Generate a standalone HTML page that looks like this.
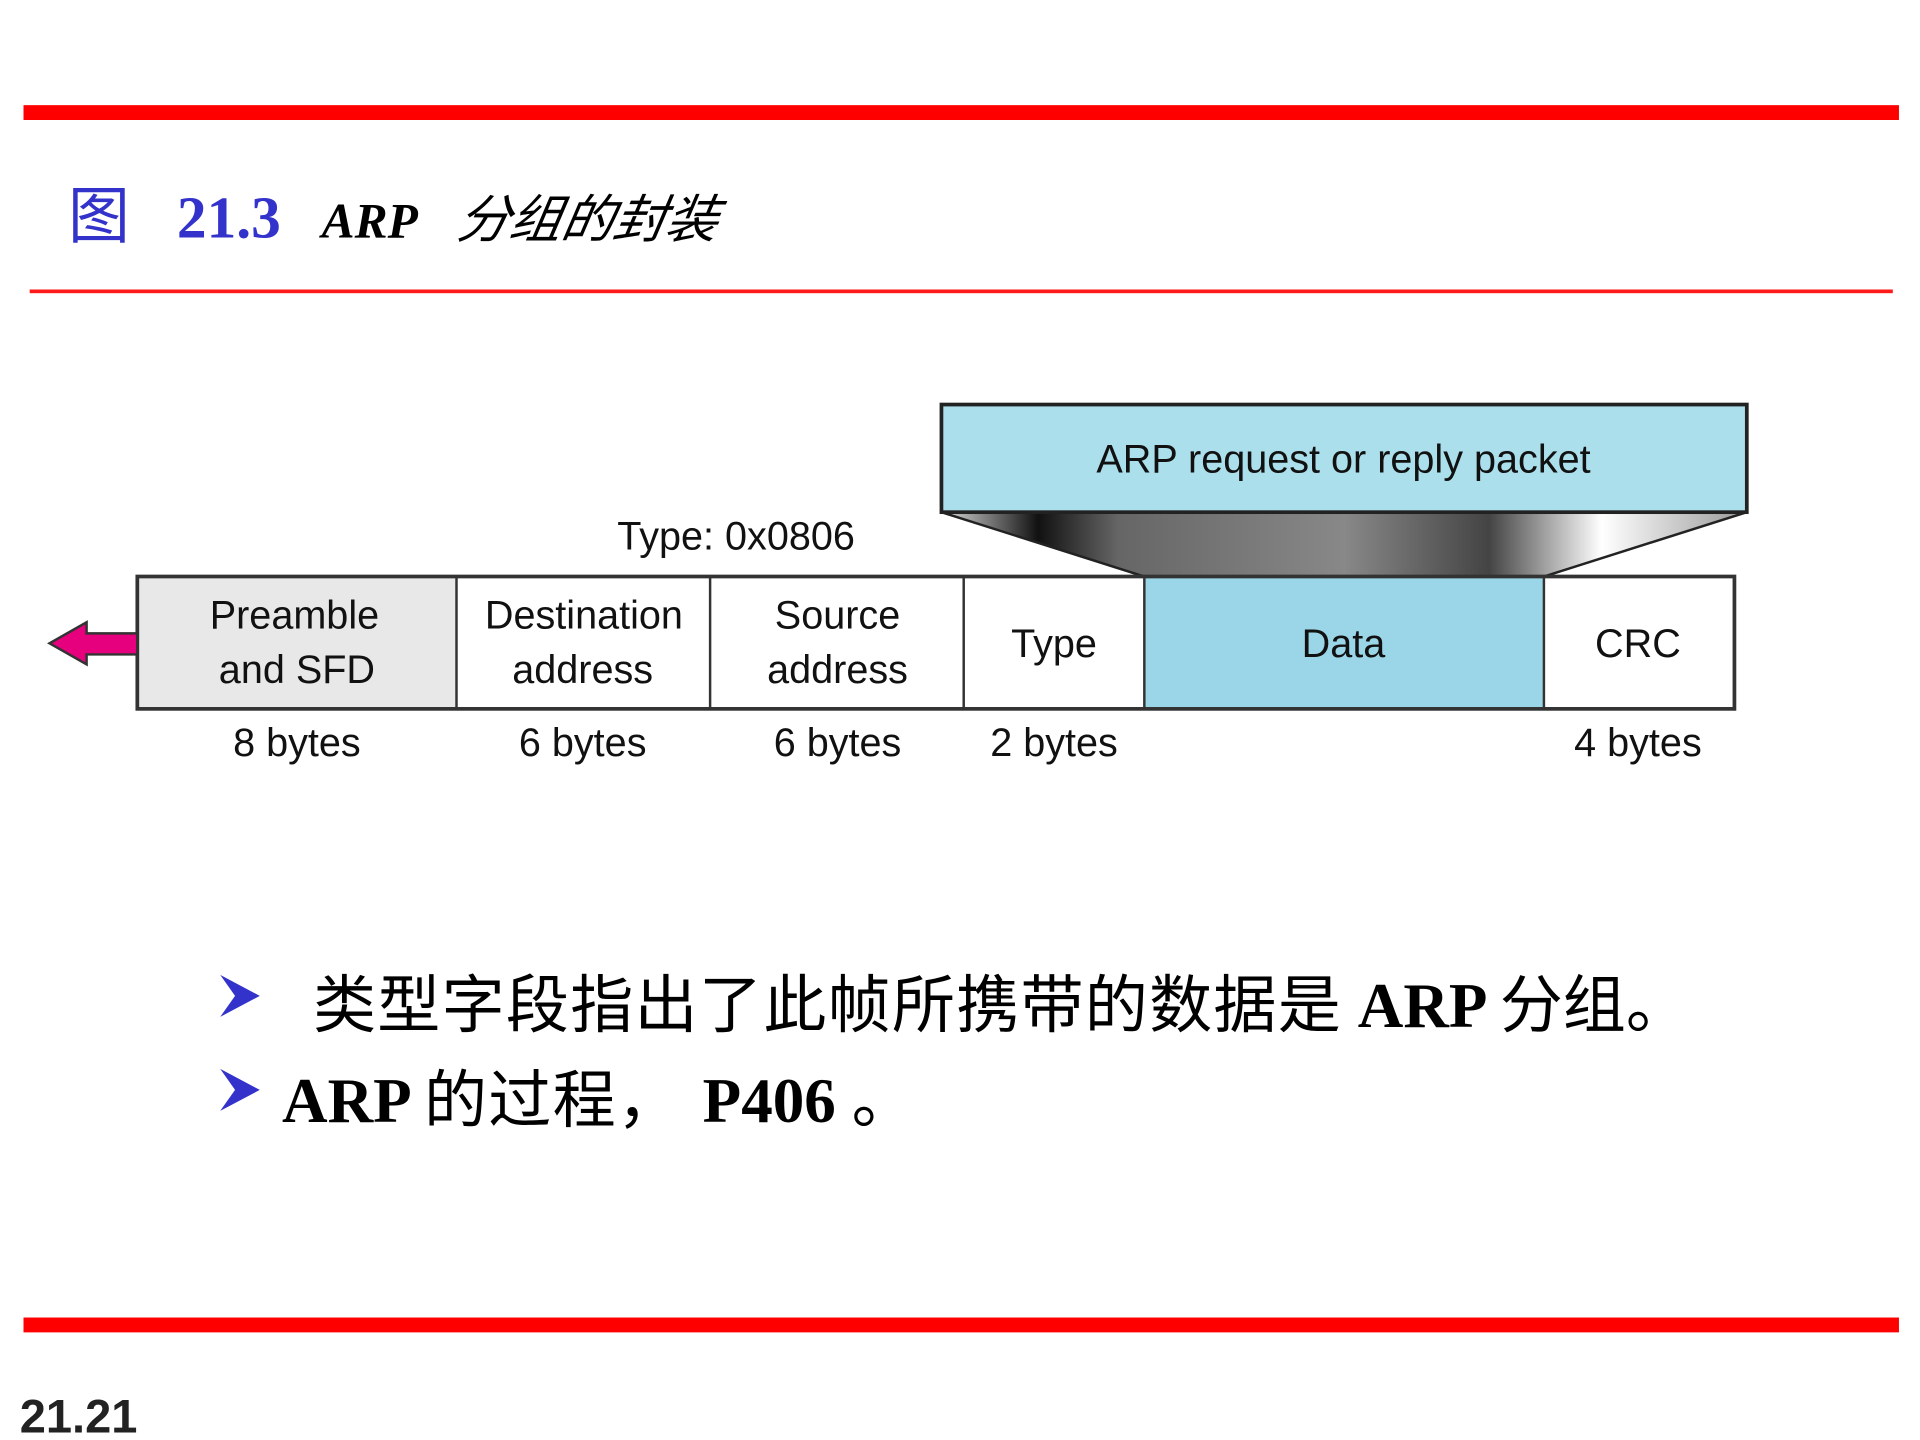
<!DOCTYPE html>
<html><head><meta charset="utf-8"><style>
html,body{margin:0;padding:0;background:#fff;}
svg{display:block;}
</style></head><body>
<svg width="1920" height="1440" viewBox="0 0 1552 1164" xmlns="http://www.w3.org/2000/svg">
<defs>
<linearGradient id="g" x1="0" x2="1" y1="0" y2="0">
<stop offset="0" stop-color="#ddd"/>
<stop offset="0.12" stop-color="#111"/>
<stop offset="0.22" stop-color="#666"/>
<stop offset="0.5" stop-color="#888"/>
<stop offset="0.68" stop-color="#444"/>
<stop offset="0.82" stop-color="#fff"/>
<stop offset="1" stop-color="#999"/>
</linearGradient>
</defs>
<rect x="0" y="0" width="1552" height="1164" fill="#fff"/>
<rect x="19" y="85" width="1516" height="12" fill="#ff0000"/>
<rect x="24" y="234" width="1506" height="3" fill="#ff1a1a"/>
<rect x="19" y="1065" width="1516" height="12" fill="#ff0000"/>
<g font-family="Liberation Serif, 'Noto Serif CJK SC', serif">
<text x="55" y="192" font-size="50" fill="#3333cc" font-family="'Noto Sans CJK SC', sans-serif">图</text>
<text x="143" y="192" font-size="48" font-weight="bold" fill="#3333cc">21.3</text>
<text x="260" y="192" font-size="40" font-weight="bold" font-style="italic" fill="#000">ARP</text>
<text x="368" y="192" font-size="42" font-style="italic" fill="#000" font-family="'Noto Sans CJK SC', sans-serif" transform="skewX(-10) translate(34,0)">分组的封装</text>
</g>
<polygon points="761,414 1412,414 1248,466 925,466" fill="url(#g)" stroke="#222" stroke-width="2"/>
<rect x="761" y="327" width="651" height="87" fill="#abdfec" stroke="#222" stroke-width="3"/>
<rect x="111" y="466" width="258" height="107" fill="#e8e8e8"/>
<rect x="925" y="466" width="323" height="107" fill="#9ad6e8"/>
<rect x="111" y="466" width="1291" height="107" fill="none" stroke="#333" stroke-width="3"/>
<g stroke="#333" stroke-width="2">
<line x1="369" y1="466" x2="369" y2="573"/><line x1="574" y1="466" x2="574" y2="573"/>
<line x1="779" y1="466" x2="779" y2="573"/><line x1="925" y1="466" x2="925" y2="573"/>
<line x1="1248" y1="466" x2="1248" y2="573"/>
</g>
<polygon points="40,520 70,503 70,512 111,512 111,529 70,529 70,537" fill="#e6007e" stroke="#333" stroke-width="2"/>
<g font-family="Liberation Sans, sans-serif" font-size="32" fill="#111" text-anchor="middle">
<text x="1086" y="382">ARP request or reply packet</text>
<text x="595" y="444">Type: 0x0806</text>
<text x="238" y="508">Preamble</text><text x="240" y="552">and SFD</text>
<text x="472" y="508">Destination</text><text x="471" y="552">address</text>
<text x="677" y="508">Source</text><text x="677" y="552">address</text>
<text x="852" y="531">Type</text>
<text x="1086" y="531">Data</text>
<text x="1324" y="531">CRC</text>
<text x="240" y="611">8 bytes</text><text x="471" y="611">6 bytes</text>
<text x="677" y="611">6 bytes</text><text x="852" y="611">2 bytes</text>
<text x="1324" y="611">4 bytes</text>
</g>
<g fill="#3333cc">
<polygon points="178,788 210,805 178,822 190,805"/>
<polygon points="178,864 210,881 178,898 190,881"/>
</g>
<g font-family="Liberation Serif, 'Noto Serif CJK SC', serif" font-size="51" fill="#000">
<text x="253" y="830"><tspan font-family="'Noto Sans CJK SC', sans-serif" letter-spacing="1">类型字段指出了此帧所携带的数据是</tspan><tspan font-weight="bold"> ARP </tspan><tspan font-family="'Noto Sans CJK SC', sans-serif">分组。</tspan></text>
<text x="228" y="907"><tspan font-weight="bold">ARP </tspan><tspan font-family="'Noto Sans CJK SC', sans-serif" letter-spacing="1">的过程，</tspan><tspan font-weight="bold" x="568">P406 </tspan><tspan font-family="'Noto Sans CJK SC', sans-serif">。</tspan></text>
</g>
<text x="16" y="1158" font-family="Liberation Sans, sans-serif" font-size="38" font-weight="bold" fill="#222">21.21</text>
</svg>
</body></html>
